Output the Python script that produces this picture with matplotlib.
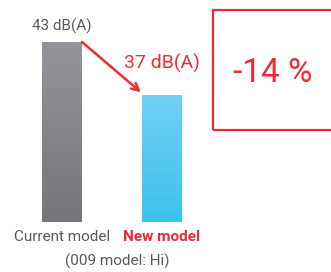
import numpy as np
import matplotlib
matplotlib.use("Agg")
import matplotlib.pyplot as plt
from matplotlib.patches import Rectangle
from matplotlib.colors import LinearSegmentedColormap

plt.rcParams['font.family'] = ['Roboto', 'DejaVu Sans']

models = ['Current model', 'New model']
levels = [43, 37]          # dB(A)
value_labels = ['43 dB(A)', '37 dB(A)']
change_label = '-14 %'
subnote = '(009 model: Hi)'
baseline = 22.6

RED = '#ee2a35'
GRAY_TXT = '#58595b'
grads = [('#94959a', '#75767a'), ('#6fd0f6', '#3dc1ef')]

W, H = 331, 272
fig = plt.figure(figsize=(W / 100, H / 100), dpi=100)
ax = fig.add_axes([12 / W, 50 / H, 200 / W, 180 / H])
ax.axis('off')

x = np.arange(len(models))
bars = ax.bar(x, np.array(levels) - baseline, bottom=baseline, width=0.4,
              color='none', edgecolor='none')
for b, (top_c, bot_c) in zip(bars, grads):
    cmap = LinearSegmentedColormap.from_list('g', [bot_c, top_c])
    x0, y0 = b.get_x(), b.get_y()
    im = ax.imshow(np.linspace(0, 1, 100).reshape(-1, 1), cmap=cmap,
                   extent=[x0, x0 + b.get_width(), y0, y0 + b.get_height()],
                   origin='lower', aspect='auto', zorder=2)
    im.set_clip_path(b)

ax.set_xlim(-0.5, 1.5)
ax.set_ylim(baseline, levels[0])

# value labels
ax.annotate(value_labels[0], (x[0], levels[0]), xytext=(0, 8),
            textcoords='offset pixels', ha='center', va='bottom',
            fontsize=11, color=GRAY_TXT, annotation_clip=False)
ax.annotate(value_labels[1], (x[1], levels[1]), xytext=(0, 22),
            textcoords='offset pixels', ha='center', va='bottom',
            fontsize=14, color=RED, annotation_clip=False)

# arrow from current to new
ax.annotate('', xy=(0.79, 37.3), xytext=(0.2, levels[0]),
            arrowprops=dict(arrowstyle='->', color=RED, lw=1.8,
                            mutation_scale=13, shrinkA=0, shrinkB=0),
            annotation_clip=False)

# category labels
ax.annotate(models[0], (x[0], baseline), xytext=(0, -8),
            textcoords='offset pixels', ha='center', va='top',
            fontsize=11, color=GRAY_TXT, annotation_clip=False)
ax.annotate(models[1], (x[1], baseline), xytext=(0, -8),
            textcoords='offset pixels', ha='center', va='top',
            fontsize=11, color=RED, fontweight='bold', annotation_clip=False)
ax.annotate(subnote, (0.55, baseline), xytext=(0, -32),
            textcoords='offset pixels', ha='center', va='top',
            fontsize=11, color=GRAY_TXT, annotation_clip=False)

# red box with change
fig.add_artist(Rectangle((213 / W, 142 / H), 130 / W, 120 / H,
                         transform=fig.transFigure, fill=False,
                         edgecolor=RED, lw=1.6))
fig.text(273 / W, 199 / H, change_label, ha='center', va='center',
         fontsize=24, color=RED)

fig.savefig('out.png', dpi=100)
